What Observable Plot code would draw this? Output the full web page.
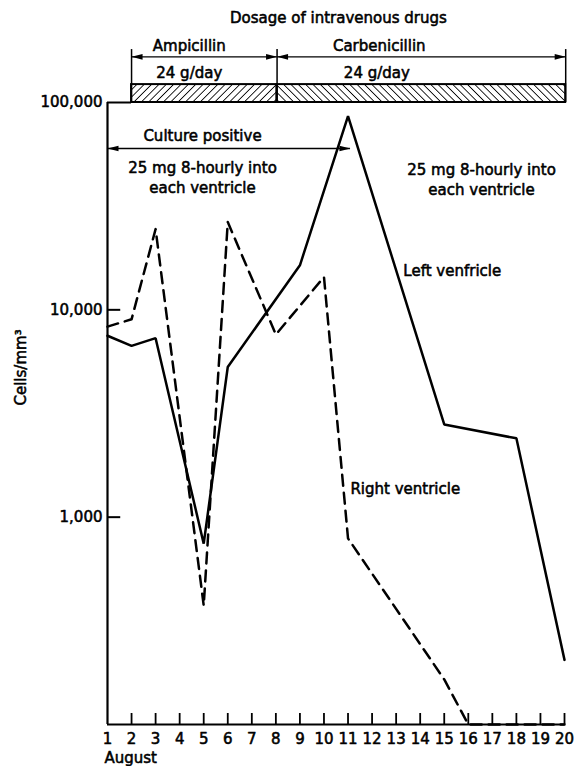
<!DOCTYPE html>
<html>
<head>
<meta charset="utf-8">
<script src="https://cdn.jsdelivr.net/npm/d3@7"></script>
<script src="https://cdn.jsdelivr.net/npm/@observablehq/plot@0.6"></script>
<style>
  body { margin: 0; background: #fff; }
  #chart svg { display: block; }
</style>
</head>
<body>
<div id="chart"></div>
<script>
// ---------- data ----------
const xTicks = [1, 2, 3, 4, 5, 6, 7, 8, 9, 10, 11, 12, 13, 14, 15, 16, 17, 18, 19, 20];
const xTickLabels = ["1","2","3","4","5","6","7","8","9","10","11","12","13","14","15","16","17","18","19","20"];
const yTicks = [1000, 10000, 100000];
const yTickLabels = ["1,000", "10,000", "100,000"];

// Left ventricle (solid line): day of August, cells/mm3
const leftDays  = [1, 2, 3, 5, 6, 9, 11, 15, 18, 20];
const leftCells = [7500, 6700, 7300, 745, 5300, 16400, 86000, 2800, 2400, 205];

// Right ventricle (dashed line)
const rightDays  = [1, 2, 3, 5, 6, 8, 10, 11, 15, 16, 17, 18, 19, 20];
const rightCells = [8300, 9000, 24500, 375, 26500, 7600, 14400, 790, 165, 100, 100, 100, 100, 100];

// Intravenous drugs: name, dose, start day, end day
const drugNames = ["Ampicillin", "Carbenicillin"];
const drugDoses = ["24 g/day", "24 g/day"];
const drugStart = [2, 8.05];
const drugEnd   = [8.05, 20.05];

// Culture positive period
const cultureStart = [1];
const cultureEnd   = [11.1];

// ---------- build ----------
const left  = leftDays.map((d, i) => ({day: d, cells: leftCells[i]}));
const right = rightDays.map((d, i) => ({day: d, cells: rightCells[i]}));
const drugIdx = drugNames.map((_, i) => i);

// annotation band heights (values in the log y scale, above the 100,000 top)
const Y_TITLE = 2.54e5, Y_DRUG = 1.87e5, Y_TICKTOP = 1.80e5, Y_ARROW = 1.66e5, Y_DOSE = 1.39e5, Y_BARTOP = 1.22e5;
const Y_CULTURE_TXT = 6.85e4, Y_CULTURE = 6.0e4;

const headRight = {draw(ctx) { ctx.moveTo(0, 0); ctx.lineTo(-11, -2.8); ctx.lineTo(-11, 2.8); ctx.closePath(); }};
const headLeft  = {draw(ctx) { ctx.moveTo(0, 0); ctx.lineTo(11, -2.8); ctx.lineTo(11, 2.8); ctx.closePath(); }};

const FONT = "DejaVu Sans";
const T = {fontSize: 15, fill: "black", stroke: "black", strokeWidth: 0.55};

const chart = Plot.plot({
  width: 576,
  height: 766,
  marginLeft: 107,
  marginRight: 12,
  marginTop: 102,
  marginBottom: 42,
  x: {domain: [1, 20], axis: null},
  y: {type: "log", domain: [100, 100000], axis: null},
  style: {fontFamily: FONT, fontSize: "14px", background: "#fff", color: "black", overflow: "visible"},
  marks: [
    // axes lines
    Plot.ruleX([1], {y1: 100, y2: 100000, stroke: "black", strokeWidth: 2.2}),
    Plot.ruleY([100], {x1: 1, x2: 20.02, stroke: "black", strokeWidth: 2.2}),
    // y ticks (inward)
    Plot.ruleY(yTicks.slice(0, 2), {x1: 1, x2: 1.55, stroke: "black", strokeWidth: 2}),
    Plot.ruleY([yTicks[2]], {x1: 1, x2: drugStart[0], stroke: "black", strokeWidth: 2}),
    Plot.text(yTicks, {...T, x: 1, y: d => d, text: (d, i) => yTickLabels[i], textAnchor: "end", dx: -5}),
    // x ticks (inward)
    Plot.ruleX(xTicks.slice(1), {y1: 100, y2: 113, stroke: "black", strokeWidth: 1.8}),
    Plot.text(xTicks, {...T, x: d => d, y: 100, text: (d, i) => xTickLabels[i], dy: 15}),
    Plot.text(["August"], {...T, x: 1, y: 100, dy: 34, dx: -3, textAnchor: "start"}),
    Plot.text(["Cells/mm³"], {...T, frameAnchor: "left", dx: -86, dy: -8, rotate: -90}),

    // drug bar
    Plot.rect([0], {x1: drugStart[0], x2: drugEnd[0], y1: 100000, y2: Y_BARTOP, fill: "url(#hatchL)", stroke: "black", strokeWidth: 2}),
    Plot.rect([1], {x1: drugStart[1], x2: drugEnd[1], y1: 100000, y2: Y_BARTOP, fill: "url(#hatchR)", stroke: "black", strokeWidth: 2}),
    Plot.ruleX([drugStart[0], drugStart[1], drugEnd[1]], {y1: 100000, y2: Y_TICKTOP, stroke: "black", strokeWidth: 1.5}),
    Plot.ruleY(drugIdx, {y: Y_ARROW, x1: i => drugStart[i], x2: i => drugEnd[i], stroke: "black", strokeWidth: 1.3}),
    Plot.dot(drugIdx, {x: i => drugStart[i], y: Y_ARROW, symbol: headLeft, fill: "black", stroke: "none"}),
    Plot.dot(drugIdx, {x: i => drugEnd[i], y: Y_ARROW, symbol: headRight, fill: "black", stroke: "none"}),
    Plot.text(["Dosage of intravenous drugs"], {...T, x: 10.6, y: Y_TITLE}),
    Plot.text([drugNames[0]], {...T, x: 4.4, y: Y_DRUG}),
    Plot.text([drugNames[1]], {...T, x: 12.3, y: Y_DRUG}),
    Plot.text([drugDoses[0]], {...T, x: 4.4, y: Y_DOSE}),
    Plot.text([drugDoses[1]], {...T, x: 12.2, y: Y_DOSE}),

    // culture positive arrow
    Plot.ruleY([0], {y: Y_CULTURE, x1: cultureStart[0], x2: cultureEnd[0], stroke: "black", strokeWidth: 1.3}),
    Plot.dot([0], {x: cultureStart[0], y: Y_CULTURE, symbol: headLeft, fill: "black", stroke: "none"}),
    Plot.dot([0], {x: cultureEnd[0], y: Y_CULTURE, symbol: headRight, fill: "black", stroke: "none"}),
    Plot.text(["Culture positive"], {...T, x: 4.95, y: Y_CULTURE_TXT}),

    // intraventricular dosage notes
    Plot.text(["25 mg 8-hourly into\neach ventricle"], {...T, x: 4.95, y: 4.40e4, lineHeight: 1.33}),
    Plot.text(["25 mg 8-hourly into\neach ventricle"], {...T, x: 16.55, y: 4.28e4, lineHeight: 1.33}),

    // series
    Plot.line(left, {x: "day", y: "cells", stroke: "black", strokeWidth: 2.5, strokeLinejoin: "miter"}),
    Plot.line(right, {x: "day", y: "cells", stroke: "black", strokeWidth: 2.5, strokeDasharray: "11,7"}),
    Plot.text(["Left venfricle"], {...T, x: 13.3, y: 15300, textAnchor: "start"}),
    Plot.text(["Right ventricle"], {...T, x: 11.1, y: 1360, textAnchor: "start"})
  ]
});

// hatch patterns for the drug bar
const ns = "http://www.w3.org/2000/svg";
const defs = document.createElementNS(ns, "defs");
defs.innerHTML = `
  <pattern id="hatchL" patternUnits="userSpaceOnUse" width="5.2" height="5.2" patternTransform="rotate(45)">
    <line x1="0" y1="0" x2="0" y2="5.2" stroke="black" stroke-width="1.7"/>
  </pattern>
  <pattern id="hatchR" patternUnits="userSpaceOnUse" width="5.2" height="5.2" patternTransform="rotate(-45)">
    <line x1="0" y1="0" x2="0" y2="5.2" stroke="black" stroke-width="1.7"/>
  </pattern>`;
chart.insertBefore(defs, chart.firstChild);

document.getElementById("chart").appendChild(chart);
</script>
</body>
</html>
